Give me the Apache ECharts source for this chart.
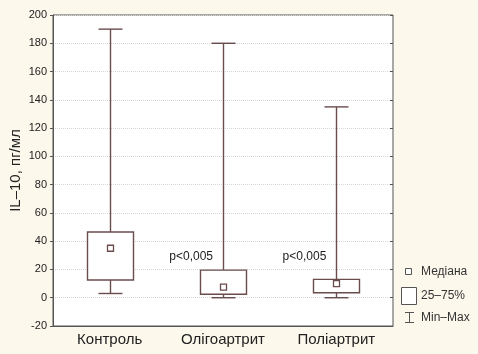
<!DOCTYPE html>
<html>
<head>
<meta charset="utf-8">
<script src="https://cdn.jsdelivr.net/npm/echarts@6/dist/echarts.min.js"></script>
<style>
  html, body { margin: 0; padding: 0; background: #fdf8ec; }
  #main { width: 478px; height: 354px; }
</style>
</head>
<body>
<div id="main"></div>
<script>
// groups and box statistics
var categories = ["Контроль", "Олігоартрит", "Поліартрит"];
var minVals = [3, 0, 0];
var q1Vals = [12.5, 2.5, 3.5];
var medianVals = [35, 7.5, 10];
var q3Vals = [46.5, 19.5, 13];
var maxVals = [190, 180, 135];
var yTicks = { min: -20, max: 200, interval: 20 };
var pText = ["", "p<0,005", "p<0,005"];
var pLevel = 29;

var font = '"Liberation Sans Narrow", "Arial Narrow", "Liberation Sans", Arial, sans-serif';
var boxColor = "#6b4c4d";

var boxData = categories.map(function (c, i) {
  return [i, minVals[i], q1Vals[i], medianVals[i], q3Vals[i], maxVals[i]];
});
var noteData = [];
pText.forEach(function (t, i) {
  if (t) noteData.push([i, pLevel, t]);
});

function renderBox(params, api) {
  var x = api.value(0);
  var lo = api.coord([x, api.value(1)]);
  var q1 = api.coord([x, api.value(2)]);
  var med = api.coord([x, api.value(3)]);
  var q3 = api.coord([x, api.value(4)]);
  var hi = api.coord([x, api.value(5)]);
  var cx = Math.round(lo[0]) + 0.5;
  var bw = Math.round(api.size([1, 0])[0] * 0.41);
  var cap = 24;
  var st = { stroke: boxColor, lineWidth: 1.4, fill: null };
  return {
    type: "group",
    children: [
      { type: "line", shape: { x1: cx, y1: hi[1], x2: cx, y2: q3[1] }, style: st },
      { type: "line", shape: { x1: cx, y1: q1[1], x2: cx, y2: lo[1] }, style: st },
      { type: "line", shape: { x1: cx - cap / 2, y1: hi[1], x2: cx + cap / 2, y2: hi[1] }, style: st },
      { type: "line", shape: { x1: cx - cap / 2, y1: lo[1], x2: cx + cap / 2, y2: lo[1] }, style: st },
      {
        type: "rect",
        shape: { x: cx - bw / 2, y: q3[1], width: bw, height: q1[1] - q3[1] },
        style: { stroke: boxColor, lineWidth: 1.4, fill: "#fff" }
      },
      {
        type: "rect",
        shape: { x: cx - 3, y: med[1] - 3, width: 6, height: 6 },
        style: { stroke: boxColor, lineWidth: 1.3, fill: "#fff" }
      }
    ]
  };
}

function renderNote(params, api) {
  var p = api.coord([api.value(0), api.value(1)]);
  return {
    type: "text",
    x: p[0] - 10,
    y: p[1],
    style: {
      text: api.value(2),
      fill: "#222",
      font: "12px " + font,
      align: "right",
      verticalAlign: "middle"
    }
  };
}

var chart = echarts.init(document.getElementById("main"));

chart.setOption({
  backgroundColor: "#fdf8ec",
  animation: false,
  grid: {
    left: 53,
    right: 85,
    top: 15,
    bottom: 28,
    containLabel: false,
    outerBoundsMode: "none",
    show: true,
    backgroundColor: "#ffffff",
    borderColor: "#555",
    borderWidth: 1
  },
  xAxis: [
    {
      type: "category",
      data: categories,
      axisLine: { onZero: false, lineStyle: { color: "#555" } },
      axisTick: { alignWithLabel: true, length: 3, lineStyle: { color: "#555" } },
      axisLabel: { color: "#222", fontSize: 15, fontFamily: font, margin: 6 },
      splitLine: { show: false }
    },
    {
      type: "category",
      data: categories,
      position: "top",
      axisLine: { show: false, onZero: false },
      axisTick: { alignWithLabel: true, inside: true, length: 3, lineStyle: { color: "#555" } },
      axisLabel: { show: false }
    }
  ],
  yAxis: [
    {
      type: "value",
      min: yTicks.min,
      max: yTicks.max,
      interval: yTicks.interval,
      name: "IL–10, пг/мл",
      nameLocation: "middle",
      nameGap: 30,
      nameMoveOverlap: false,
      nameTextStyle: { color: "#222", fontSize: 15, fontFamily: font },
      axisLine: { show: true, lineStyle: { color: "#555" } },
      axisTick: { show: true, length: 3, lineStyle: { color: "#555" } },
      axisLabel: { color: "#222", fontSize: 11, fontFamily: font, margin: 6 },
      splitLine: { show: true, lineStyle: { color: "#d6d6d6", type: "dotted", width: 1 } }
    },
    {
      type: "value",
      min: yTicks.min,
      max: yTicks.max,
      interval: yTicks.interval,
      position: "right",
      axisLine: { show: false },
      axisTick: { show: true, inside: true, length: 3, lineStyle: { color: "#555" } },
      axisLabel: { show: false },
      splitLine: { show: false }
    }
  ],
  series: [
    {
      type: "custom",
      renderItem: renderBox,
      data: boxData,
      encode: { x: 0, y: [1, 2, 3, 4, 5] },
      z: 3
    },
    {
      type: "custom",
      renderItem: renderNote,
      data: noteData,
      encode: { x: 0, y: 1 },
      z: 4
    }
  ],
  graphic: [
    { type: "rect", shape: { x: 405.5, y: 268.5, width: 6, height: 6 }, style: { stroke: "#555", lineWidth: 1, fill: "#fff" } },
    { type: "text", x: 421, y: 272, style: { text: "Медіана", fill: "#333", font: "12px " + font, verticalAlign: "middle" } },
    { type: "rect", shape: { x: 401.5, y: 287.5, width: 15, height: 17 }, style: { stroke: "#555", lineWidth: 1, fill: "#fff" } },
    { type: "text", x: 421, y: 296, style: { text: "25–75%", fill: "#333", font: "12px " + font, verticalAlign: "middle" } },
    { type: "line", shape: { x1: 409.5, y1: 312, x2: 409.5, y2: 323 }, style: { stroke: "#555", lineWidth: 1 } },
    { type: "line", shape: { x1: 405, y1: 312.5, x2: 414, y2: 312.5 }, style: { stroke: "#555", lineWidth: 1 } },
    { type: "line", shape: { x1: 405, y1: 322.5, x2: 414, y2: 322.5 }, style: { stroke: "#555", lineWidth: 1 } },
    { type: "text", x: 421, y: 318, style: { text: "Min–Max", fill: "#333", font: "12px " + font, verticalAlign: "middle" } }
  ]
});
</script>
</body>
</html>
